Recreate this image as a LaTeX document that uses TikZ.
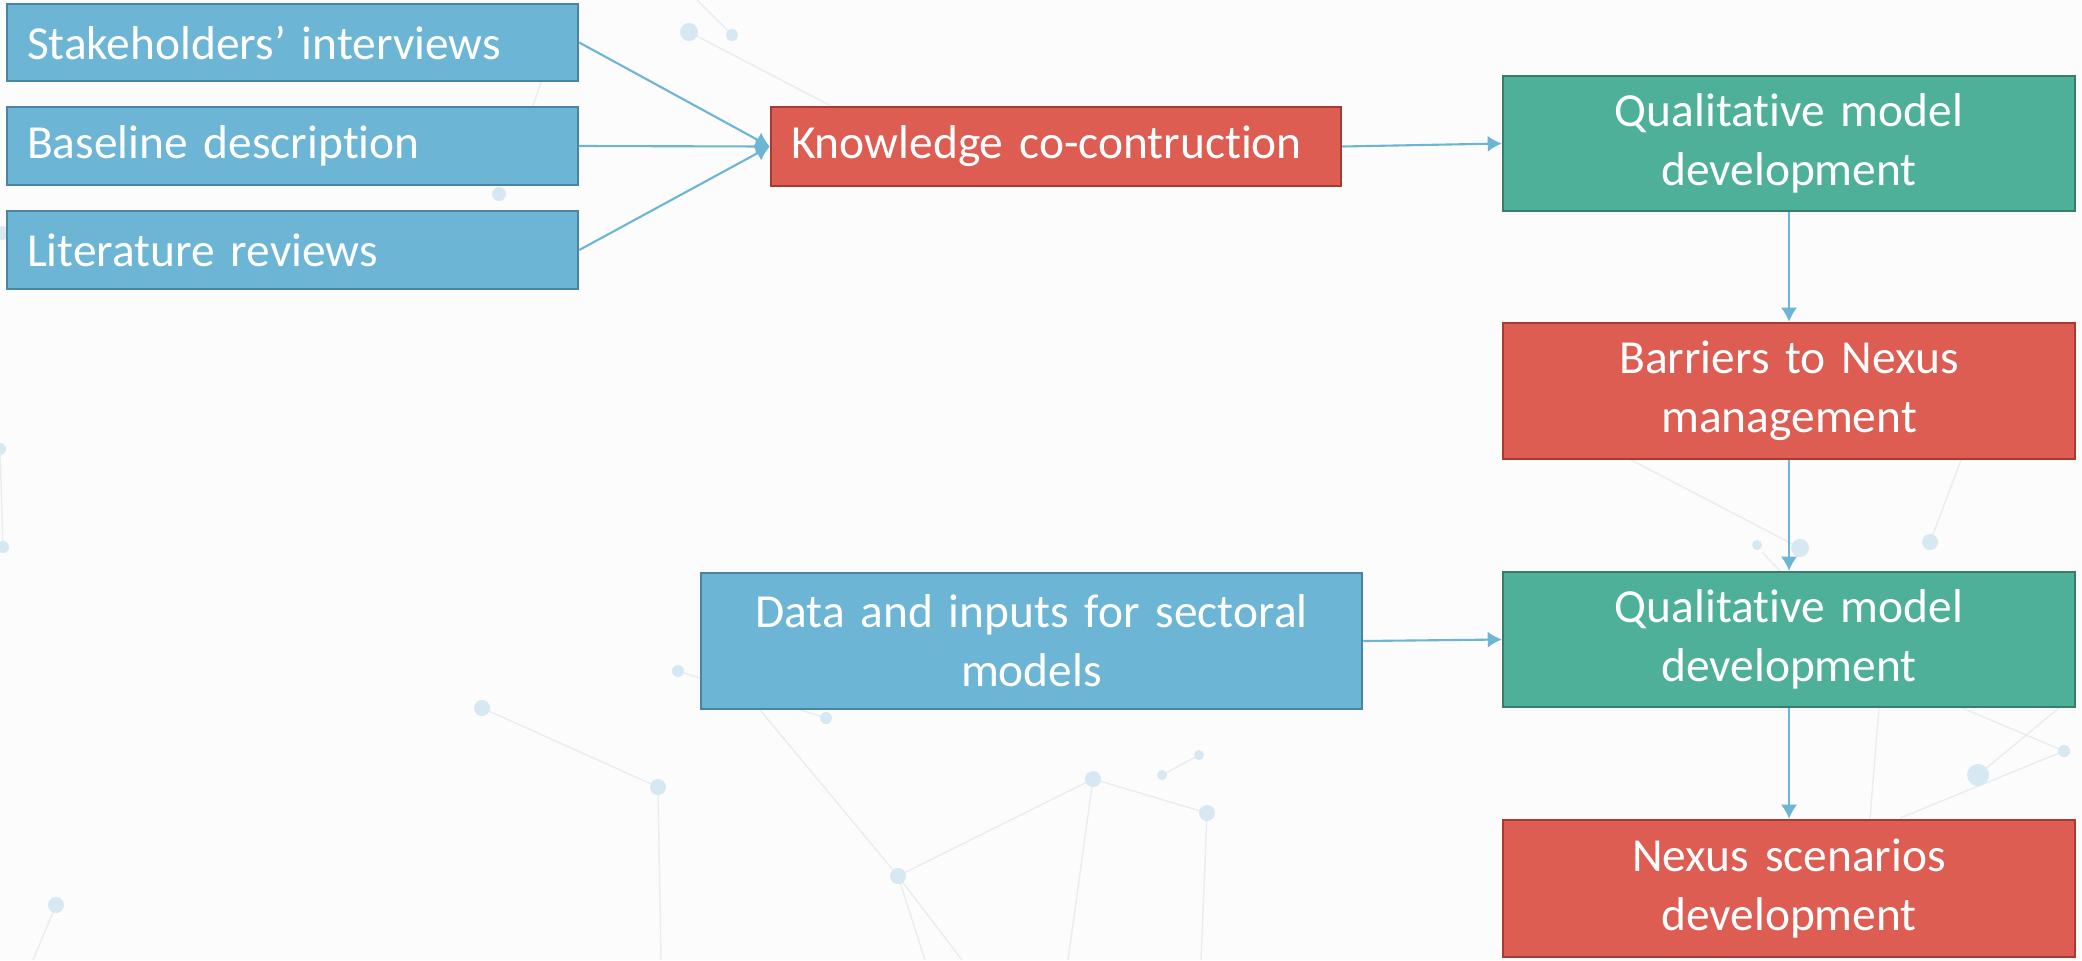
\documentclass[tikz,border=0pt]{standalone}
\usepackage{fontspec}
\setmainfont{Carlito}[Ligatures=NoCommon]
\usepgflibrary{arrows.meta}

\definecolor{pageback}{RGB}{252,252,252}
\definecolor{netdot}{RGB}{214,232,242}
\definecolor{netline}{RGB}{232,237,240}
\definecolor{bluefill}{RGB}{108,181,213}
\definecolor{blueedge}{RGB}{74,132,163}
\definecolor{redfill}{RGB}{221,93,82}
\definecolor{rededge}{RGB}{168,58,50}
\definecolor{greenfill}{RGB}{79,176,154}
\definecolor{greenedge}{RGB}{56,125,105}
\definecolor{arrowblue}{RGB}{108,181,213}

\tikzset{
	stagebox/.style={rectangle, line width=0.7pt, text=white, inner xsep=0.2cm,
		font=\fontsize{13.5}{16.8}\selectfont},
	inbox/.style={stagebox, fill=bluefill, draw=blueedge},
	redbox/.style={stagebox, fill=redfill, draw=rededge},
	greenbox/.style={stagebox, fill=greenfill, draw=greenedge},
	leftside/.style={text width=#1, align=left},
	middle/.style={text width=#1, align=center},
	flow/.style={semithick, draw=arrowblue, -{Latex[length=4pt,width=4.6pt]}},
}

\begin{document}
\begin{tikzpicture}

		\useasboundingbox (0,0) rectangle (20.82,9.6);
		\fill [pageback] (0,0) rectangle (20.82,9.6);

		% faint network in the background (pixel units)
		\begin{scope}[x=0.1mm, y=-0.1mm, yshift=9.6cm]
			\draw [netline] (697,0) -- (732,35) (689,32) -- (833,107) (548,62) -- (528,120);
			\draw [netline] (0,449) -- (3,547) (56,905) -- (33,960);
			\draw [netline] (482,708) -- (658,787) -- (661,960) (678,671) -- (826,718);
			\draw [netline] (760,710) -- (898,876) -- (1093,779) -- (1207,813) -- (1201,960);
			\draw [netline] (1093,779) -- (1068,960) (898,876) -- (962,960) (898,876) -- (925,960) (1162,775) -- (1199,755);
			\draw [netline] (1631,460) -- (1800,548) (1961,460) -- (1930,542) (1762,552) -- (1781,572);
			\draw [netline] (1879,707) -- (1870,818) (1960,707) -- (2064,751) -- (1900,818) (1978,775) -- (2060,707);
			\foreach \px/\py/\r in {689/32/9, 732/35/6, 499/194/7, 2/233/7, 0/449/6, 3/547/6, 56/905/8,
				482/708/8, 658/787/8, 678/671/6, 826/718/6, 898/876/8, 1093/779/8, 1207/813/8,
				1162/775/5, 1199/755/5, 1757/545/5, 1800/548/9, 1930/542/8, 1978/775/11, 2064/751/6}
				\fill [netdot] (\px,\py) circle (\r);
		\end{scope}

		% sources
		\node [inbox, leftside=5.31cm, minimum height=0.77cm] (stake) at (2.925,9.175) {Stakeholders’ interviews};
		\node [inbox, leftside=5.31cm, minimum height=0.78cm] (base) at (2.925,8.14) {Baseline description};
		\node [inbox, leftside=5.31cm, minimum height=0.78cm] (lit) at (2.925,7.10) {Literature reviews};
		\node [redbox, leftside=5.30cm, minimum height=0.79cm] (know) at (10.56,8.135) {Knowledge co-contruction};

		% right column
		\node [greenbox, middle=5.32cm, minimum height=1.35cm] (qualA) at (17.89,8.165) {Qualitative model\\development};
		\node [redbox, middle=5.32cm, minimum height=1.36cm] (barrier) at (17.89,5.69) {Barriers to Nexus\\management};
		\node [inbox, middle=6.21cm, minimum height=1.36cm] (data) at (10.315,3.19) {Data and inputs for sectoral\\models};
		\node [greenbox, middle=5.32cm, minimum height=1.35cm] (qualB) at (17.89,3.205) {Qualitative model\\development};
		\node [redbox, middle=5.32cm, minimum height=1.37cm] (nexus) at (17.89,0.715) {Nexus scenarios\\development};

		\draw [flow] (stake.east) -- (know.west);
		\draw [flow] (base.east) -- (know.west);
		\draw [flow] (lit.east) -- (know.west);
		\draw [flow] (know.east) -- (qualA.west);
		\draw [flow] (qualA.south) -- (barrier.north);
		\draw [flow] (barrier.south) -- (qualB.north);
		\draw [flow] (data.east) -- (qualB.west);
		\draw [flow] (qualB.south) -- (nexus.north);

	\end{tikzpicture}
\end{document}
